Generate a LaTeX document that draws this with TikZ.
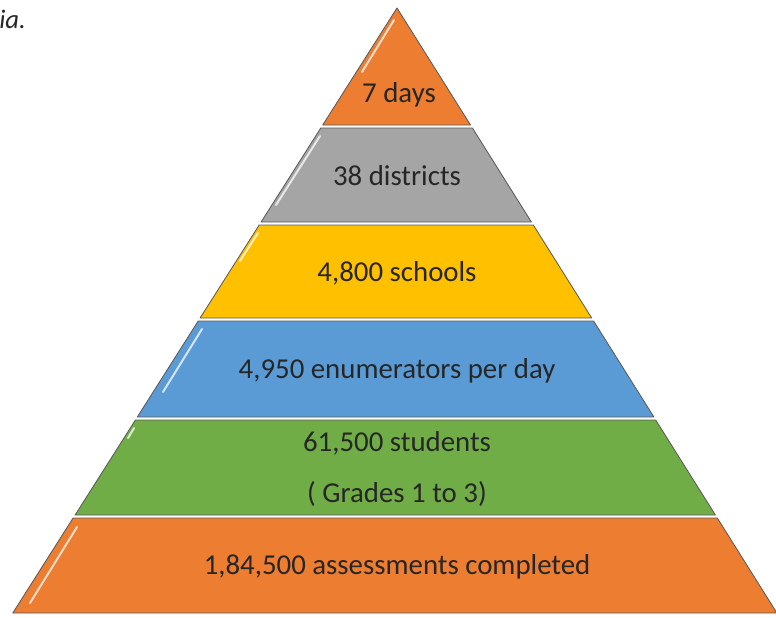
\documentclass[tikz,border=0pt]{standalone}
\usepackage{fontspec}
\setmainfont{Carlito}
\usetikzlibrary{calc,positioning}

\definecolor{layerorange}{HTML}{ED7D31}
\definecolor{layergray}{HTML}{A5A5A5}
\definecolor{layeryellow}{HTML}{FFC000}
\definecolor{layerblue}{HTML}{5B9BD5}
\definecolor{layergreen}{HTML}{70AD47}
\definecolor{edgegray}{HTML}{5A5A5A}
\definecolor{textgray}{HTML}{262626}

\tikzset{
  layer/.style={draw=edgegray, line width=0.6pt, line join=round},
  glint/.style={draw=white, opacity=0.75, line width=1.4pt, line cap=round},
  lbl/.style={text=textgray, font=\fontsize{20.5}{24}\selectfont, inner sep=0pt}
}

\begin{document}
\begin{tikzpicture}[x=0.025cm, y=-0.025cm]
  \useasboundingbox (0,0) rectangle (776,618);

  \node[anchor=west, font=\itshape\fontsize{19}{22}\selectfont, text=textgray, inner sep=0pt] (cut) at (-1,19) {ia.};

  %% layers, from the top

  \draw [layer, fill=layerorange] (397,8) -- (470.5,125) -- (322.7,125) -- cycle;
  \draw [glint] (394,20) -- (362,72);

  \draw [layer, fill=layergray] (320.8,128) -- (472.4,128) -- (531.4,222) -- (261.1,222) -- cycle;
  \draw [glint] (320,136) -- (276,205);

  \draw [layer, fill=layeryellow] (259.2,225) -- (533.3,225) -- (591.7,318) -- (200.1,318) -- cycle;
  \draw [glint] (258,233) -- (240,261);

  \draw [layer, fill=layerblue] (198.2,321) -- (593.6,321) -- (653.9,417) -- (137.3,417) -- cycle;
  \draw [glint] (202,329) -- (163,392);

  \draw [layer, fill=layergreen] (135.4,420) -- (655.7,420) -- (715.4,515) -- (75.1,515) -- cycle;
  \draw [glint] (134,428) -- (128,438);

  \draw [layer, fill=layerorange] (73.1,518) -- (717.3,518) -- (776.9,613) -- (12.8,613) -- cycle;
  \draw [glint] (77,527) -- (30,603);

  %% texts

  \node [lbl] (days) at (399,95) {7 days};
  \node [lbl] (districts) at (397,176) {38 districts};
  \node [lbl] (schools) at (397,273) {4,800 schools};
  \node [lbl] (enum) at (397,371) {4,950 enumerators per day};
  \node [lbl] (students) at (397,443) {61,500 students};
  \node [lbl] (grades) at (397,494) {( Grades 1 to 3)};
  \node [lbl] (assess) at (397,567) {1,84,500 assessments completed};

\end{tikzpicture}
\end{document}
